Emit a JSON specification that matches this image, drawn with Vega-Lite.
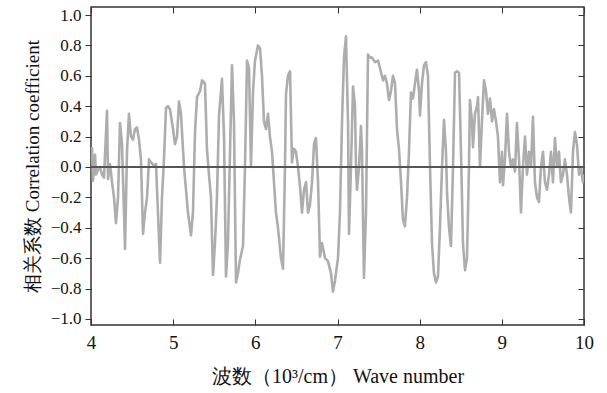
{
  "$schema": "https://vega.github.io/schema/vega-lite/v6.json",
  "autosize": "none",
  "width": 493,
  "height": 318,
  "padding": {"left": 91, "top": 7, "right": 23, "bottom": 68},
  "background": "white",
  "config": {
    "view": {"stroke": "#333", "strokeWidth": 1.5},
    "font": "Liberation Serif",
    "axis": {"grid": false, "domain": false, "labelColor": "#111", "titleColor": "#111", "tickColor": "#333", "labelFont": "Liberation Serif", "titleFont": "Liberation Serif", "titleFontWeight": "normal", "labelFlush": false, "labelOverlap": false}
  },
  "datasets": {
    "sig": [
      {"x":4.012,"y":0.13},{"x":4.024,"y":-0.09},{"x":4.049,"y":0.08},{"x":4.061,"y":-0.05},{"x":4.085,"y":-0.02},{"x":4.110,"y":0.0},{"x":4.134,"y":-0.05},{"x":4.158,"y":-0.07},{"x":4.195,"y":0.37},{"x":4.207,"y":-0.08},{"x":4.231,"y":0.02},{"x":4.256,"y":-0.1},{"x":4.280,"y":-0.2},{"x":4.304,"y":-0.37},{"x":4.329,"y":-0.2},{"x":4.353,"y":0.29},{"x":4.377,"y":0.15},{"x":4.402,"y":-0.3},{"x":4.414,"y":-0.54},{"x":4.438,"y":0.1},{"x":4.462,"y":0.35},{"x":4.487,"y":0.2},{"x":4.511,"y":0.18},{"x":4.535,"y":0.25},{"x":4.560,"y":0.26},{"x":4.584,"y":0.18},{"x":4.608,"y":0.05},{"x":4.633,"y":-0.44},{"x":4.657,"y":-0.3},{"x":4.682,"y":-0.2},{"x":4.706,"y":0.05},{"x":4.730,"y":0.03},{"x":4.767,"y":0.01},{"x":4.791,"y":0.02},{"x":4.815,"y":-0.3},{"x":4.840,"y":-0.63},{"x":4.864,"y":-0.2},{"x":4.888,"y":0.05},{"x":4.913,"y":0.39},{"x":4.937,"y":0.4},{"x":4.961,"y":0.38},{"x":4.998,"y":0.25},{"x":5.022,"y":0.15},{"x":5.047,"y":0.2},{"x":5.071,"y":0.43},{"x":5.095,"y":0.35},{"x":5.132,"y":0.0},{"x":5.180,"y":-0.3},{"x":5.217,"y":-0.45},{"x":5.241,"y":-0.3},{"x":5.266,"y":0.23},{"x":5.290,"y":0.46},{"x":5.327,"y":0.5},{"x":5.351,"y":0.57},{"x":5.387,"y":0.55},{"x":5.412,"y":0.11},{"x":5.436,"y":-0.05},{"x":5.460,"y":-0.2},{"x":5.485,"y":-0.71},{"x":5.509,"y":-0.5},{"x":5.533,"y":-0.2},{"x":5.558,"y":0.34},{"x":5.594,"y":0.58},{"x":5.619,"y":0.2},{"x":5.643,"y":-0.72},{"x":5.667,"y":-0.5},{"x":5.692,"y":0.1},{"x":5.716,"y":0.67},{"x":5.740,"y":0.3},{"x":5.765,"y":-0.76},{"x":5.789,"y":-0.7},{"x":5.813,"y":-0.61},{"x":5.850,"y":-0.52},{"x":5.874,"y":0.0},{"x":5.899,"y":0.7},{"x":5.923,"y":0.65},{"x":5.947,"y":0.0},{"x":5.972,"y":0.5},{"x":5.996,"y":0.7},{"x":6.032,"y":0.8},{"x":6.057,"y":0.78},{"x":6.081,"y":0.6},{"x":6.105,"y":0.3},{"x":6.130,"y":0.25},{"x":6.154,"y":0.35},{"x":6.178,"y":0.2},{"x":6.203,"y":0.1},{"x":6.227,"y":-0.1},{"x":6.251,"y":-0.3},{"x":6.276,"y":-0.4},{"x":6.312,"y":-0.6},{"x":6.337,"y":-0.67},{"x":6.361,"y":0.0},{"x":6.373,"y":0.48},{"x":6.397,"y":0.6},{"x":6.422,"y":0.63},{"x":6.446,"y":0.03},{"x":6.470,"y":0.12},{"x":6.495,"y":0.1},{"x":6.519,"y":0.0},{"x":6.544,"y":-0.13},{"x":6.568,"y":-0.3},{"x":6.592,"y":-0.15},{"x":6.617,"y":-0.1},{"x":6.641,"y":-0.3},{"x":6.665,"y":-0.25},{"x":6.690,"y":-0.1},{"x":6.714,"y":0.15},{"x":6.738,"y":0.19},{"x":6.763,"y":-0.1},{"x":6.787,"y":-0.59},{"x":6.811,"y":-0.5},{"x":6.848,"y":-0.6},{"x":6.884,"y":-0.62},{"x":6.921,"y":-0.7},{"x":6.945,"y":-0.82},{"x":6.969,"y":-0.75},{"x":7.006,"y":-0.6},{"x":7.030,"y":-0.3},{"x":7.055,"y":0.3},{"x":7.079,"y":0.72},{"x":7.103,"y":0.86},{"x":7.128,"y":0.3},{"x":7.140,"y":-0.44},{"x":7.164,"y":0.0},{"x":7.189,"y":0.53},{"x":7.213,"y":0.4},{"x":7.225,"y":0.0},{"x":7.237,"y":-0.15},{"x":7.262,"y":0.0},{"x":7.286,"y":0.27},{"x":7.298,"y":0.1},{"x":7.322,"y":-0.73},{"x":7.347,"y":-0.3},{"x":7.371,"y":0.74},{"x":7.395,"y":0.72},{"x":7.420,"y":0.72},{"x":7.456,"y":0.69},{"x":7.493,"y":0.7},{"x":7.517,"y":0.65},{"x":7.554,"y":0.57},{"x":7.578,"y":0.6},{"x":7.602,"y":0.55},{"x":7.627,"y":0.44},{"x":7.651,"y":0.5},{"x":7.675,"y":0.6},{"x":7.700,"y":0.55},{"x":7.724,"y":0.25},{"x":7.748,"y":0.12},{"x":7.773,"y":-0.1},{"x":7.797,"y":-0.35},{"x":7.821,"y":-0.39},{"x":7.846,"y":-0.2},{"x":7.870,"y":0.1},{"x":7.894,"y":0.49},{"x":7.919,"y":0.45},{"x":7.943,"y":0.55},{"x":7.967,"y":0.64},{"x":7.992,"y":0.5},{"x":8.004,"y":0.34},{"x":8.028,"y":0.55},{"x":8.053,"y":0.67},{"x":8.077,"y":0.69},{"x":8.101,"y":0.6},{"x":8.126,"y":0.0},{"x":8.150,"y":-0.5},{"x":8.174,"y":-0.7},{"x":8.199,"y":-0.76},{"x":8.223,"y":-0.72},{"x":8.247,"y":-0.4},{"x":8.272,"y":0.0},{"x":8.296,"y":0.31},{"x":8.320,"y":0.1},{"x":8.333,"y":-0.17},{"x":8.357,"y":-0.4},{"x":8.381,"y":-0.52},{"x":8.406,"y":0.0},{"x":8.430,"y":0.62},{"x":8.454,"y":0.63},{"x":8.479,"y":0.62},{"x":8.503,"y":0.1},{"x":8.527,"y":-0.5},{"x":8.552,"y":-0.68},{"x":8.576,"y":-0.6},{"x":8.600,"y":0.0},{"x":8.612,"y":0.44},{"x":8.637,"y":0.3},{"x":8.649,"y":0.13},{"x":8.673,"y":0.35},{"x":8.698,"y":0.4},{"x":8.710,"y":0.46},{"x":8.734,"y":0.0},{"x":8.758,"y":0.3},{"x":8.783,"y":0.57},{"x":8.807,"y":0.5},{"x":8.831,"y":0.35},{"x":8.856,"y":0.45},{"x":8.880,"y":0.3},{"x":8.904,"y":0.38},{"x":8.929,"y":0.3},{"x":8.953,"y":0.2},{"x":8.977,"y":-0.1},{"x":9.002,"y":0.1},{"x":9.014,"y":-0.12},{"x":9.038,"y":0.05},{"x":9.063,"y":0.35},{"x":9.087,"y":0.1},{"x":9.111,"y":0.0},{"x":9.136,"y":0.05},{"x":9.160,"y":-0.03},{"x":9.184,"y":0.29},{"x":9.209,"y":0.05},{"x":9.233,"y":-0.3},{"x":9.257,"y":0.0},{"x":9.282,"y":0.2},{"x":9.306,"y":-0.05},{"x":9.330,"y":0.1},{"x":9.355,"y":0.0},{"x":9.379,"y":0.33},{"x":9.403,"y":-0.1},{"x":9.428,"y":-0.2},{"x":9.452,"y":-0.23},{"x":9.476,"y":0.0},{"x":9.501,"y":0.1},{"x":9.525,"y":-0.1},{"x":9.549,"y":-0.15},{"x":9.574,"y":-0.05},{"x":9.598,"y":0.1},{"x":9.622,"y":-0.1},{"x":9.647,"y":0.19},{"x":9.671,"y":0.0},{"x":9.695,"y":0.1},{"x":9.720,"y":-0.1},{"x":9.744,"y":-0.05},{"x":9.768,"y":0.05},{"x":9.793,"y":-0.05},{"x":9.817,"y":-0.2},{"x":9.841,"y":-0.3},{"x":9.866,"y":0.1},{"x":9.890,"y":0.23},{"x":9.914,"y":0.15},{"x":9.939,"y":-0.05},{"x":9.963,"y":0.0},{"x":9.987,"y":-0.1},{"x":9.999,"y":-0.05}
    ],
    "zero": [{"y": 0}]
  },
  "layer": [
    {
      "data": {"name": "sig"},
      "mark": {"type": "line", "color": "#adadad", "strokeWidth": 2.6, "strokeJoin": "round", "clip": true},
      "encoding": {
        "x": {"field": "x", "type": "quantitative", "scale": {"domain": [4, 10], "nice": false, "zero": false},
          "axis": {"orient": "bottom", "values": [4,5,6,7,8,9,10], "format": "d", "tickSize": -6, "labelFontSize": 19, "labelPadding": 14, "title": "波数（10³/cm） Wave number", "titleFontSize": 20, "titlePadding": 14}},
        "y": {"field": "y", "type": "quantitative", "scale": {"domain": [-1.04, 1.053], "nice": false, "zero": false},
          "axis": {"orient": "left", "values": [-1,-0.8,-0.6,-0.4,-0.2,0,0.2,0.4,0.6,0.8,1], "format": ".1f", "tickSize": 6, "labelFontSize": 17, "labelPadding": 4, "title": "相关系数 Correlation coefficient", "titleFontSize": 19, "titlePadding": 8}}
      }
    },
    {
      "data": {"name": "zero"},
      "mark": {"type": "rule", "color": "#555", "strokeWidth": 2},
      "encoding": {
        "y": {"field": "y", "type": "quantitative", "scale": {"domain": [-1.04, 1.053], "nice": false, "zero": false},
          "axis": {"orient": "right", "values": [-1,-0.8,-0.6,-0.4,-0.2,0,0.2,0.4,0.6,0.8,1], "labels": false, "tickSize": -6, "title": null}}
      }
    },
    {
      "data": {"name": "zero"},
      "mark": {"type": "rule", "opacity": 0},
      "encoding": {
        "x": {"datum": 4, "type": "quantitative", "scale": {"domain": [4, 10], "nice": false, "zero": false},
          "axis": {"orient": "top", "values": [4,5,6,7,8,9,10], "labels": false, "tickSize": -6, "title": null}}
      }
    }
  ],
  "resolve": {"scale": {"x": "independent", "y": "independent"}, "axis": {"x": "independent", "y": "independent"}}
}
